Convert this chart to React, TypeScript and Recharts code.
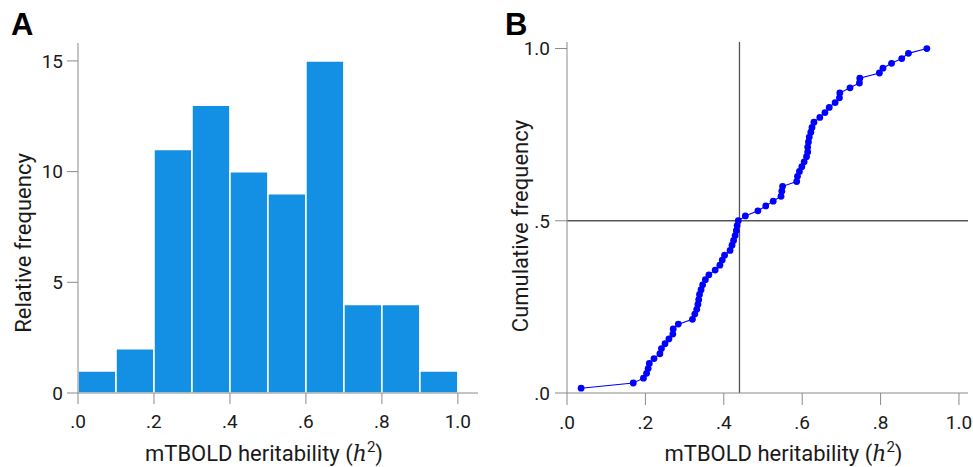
import React from "react";
import {
  ComposedChart,
  LineChart,
  Bar,
  Line,
  XAxis,
  YAxis,
  ReferenceLine,
  Label,
} from "recharts";

// Histogram (panel A)
const binCenters = [0.05, 0.15, 0.25, 0.35, 0.45, 0.55, 0.65, 0.75, 0.85, 0.95];
const binCounts = [1, 2, 11, 13, 10, 9, 15, 4, 4, 1];
const histXTicks = [0, 0.2, 0.4, 0.6, 0.8, 1.0];
const histYTicks = [0, 5, 10, 15];

// Cumulative distribution (panel B)
const heritability = [
  0.036, 0.169, 0.195, 0.203, 0.207, 0.21, 0.222, 0.237, 0.241, 0.25,
  0.26, 0.27, 0.271, 0.284, 0.32, 0.326, 0.331, 0.334, 0.336, 0.338,
  0.342, 0.346, 0.353, 0.362, 0.378, 0.39, 0.396, 0.402, 0.416, 0.421,
  0.425, 0.429, 0.432, 0.434, 0.437, 0.455, 0.487, 0.507, 0.526, 0.546,
  0.548, 0.55, 0.586, 0.588, 0.593, 0.599, 0.605, 0.611, 0.614, 0.614,
  0.616, 0.618, 0.622, 0.625, 0.63, 0.645, 0.658, 0.669, 0.684, 0.695,
  0.696, 0.722, 0.746, 0.747, 0.797, 0.806, 0.828, 0.854, 0.871, 0.918,
];
const cumulativeFreq = [
  0.014, 0.029, 0.043, 0.057, 0.071, 0.086, 0.1, 0.114, 0.129, 0.143,
  0.157, 0.171, 0.186, 0.2, 0.214, 0.229, 0.243, 0.257, 0.271, 0.286,
  0.3, 0.314, 0.329, 0.343, 0.357, 0.371, 0.386, 0.4, 0.414, 0.429,
  0.443, 0.457, 0.471, 0.486, 0.5, 0.514, 0.529, 0.543, 0.557, 0.571,
  0.586, 0.6, 0.614, 0.629, 0.643, 0.657, 0.671, 0.686, 0.7, 0.714,
  0.729, 0.743, 0.757, 0.771, 0.786, 0.8, 0.814, 0.829, 0.843, 0.857,
  0.871, 0.886, 0.9, 0.914, 0.929, 0.943, 0.957, 0.971, 0.986, 1.0,
];
const cdfXTicks = [0, 0.2, 0.4, 0.6, 0.8, 1.0];
const cdfYTicks = [0, 0.5, 1.0];
const medianValue = 0.44;
const medianFreq = 0.5;

const histData = binCenters.map((x, i) => ({ x, n: binCounts[i] }));
const cdfData = heritability.map((x, i) => ({ x, y: cumulativeFreq[i] }));

const FONT = "Roboto, 'DejaVu Sans', sans-serif";
const TEXT = "#1a1a1a";
const AXIS = "#8a8a8a";
const TITLE_SIZE = 22;

const fmtDec = (v: number) => {
  if (v >= 1) return v.toFixed(1);
  return "." + Math.round(v * 10);
};

const tickStyle = { fontSize: 19, fill: TEXT, fontFamily: FONT };

const XTitle = (shift: number) => (props: any) => {
  const vb = props.viewBox || {};
  const cx = vb.x + vb.width / 2 + shift;
  const y = 461;
  return (
    <text x={cx} y={y} textAnchor="middle" fontSize={TITLE_SIZE} fill={TEXT} fontFamily={FONT}>
      <tspan>mTBOLD heritability (</tspan>
      <tspan fontStyle="italic" fontFamily="'DejaVu Serif', serif">h</tspan>
      <tspan fontSize={15} dy={-9}>2</tspan>
      <tspan dy={9}>)</tspan>
    </text>
  );
};

const YTitle = (text: string, cx: number, cy: number) => () => (
  <text
    x={cx}
    y={cy}
    textAnchor="middle"
    dominantBaseline="central"
    transform={`rotate(-90, ${cx}, ${cy})`}
    fontSize={TITLE_SIZE}
    fill={TEXT}
    fontFamily={FONT}
  >
    {text}
  </text>
);

export default function App() {
  return (
    <div
      style={{
        position: "absolute",
        left: 0,
        top: 0,
        width: 973,
        height: 467,
        background: "#fff",
        overflow: "hidden",
      }}
    >
      <div
        style={{
          position: "absolute",
          left: 11,
          top: 7,
          fontFamily: "'Liberation Sans', Arial, sans-serif",
          fontWeight: 700,
          fontSize: 31,
          color: "#000",
          lineHeight: "36px",
        }}
      >
        A
      </div>
      <div
        style={{
          position: "absolute",
          left: 505,
          top: 7,
          fontFamily: "'Liberation Sans', Arial, sans-serif",
          fontWeight: 700,
          fontSize: 31,
          color: "#000",
          lineHeight: "36px",
        }}
      >
        B
      </div>

      <div style={{ position: "absolute", left: 0, top: 0 }}>
        <ComposedChart
          width={490}
          height={467}
          data={histData}
          margin={{ top: 43, right: 12, left: 0, bottom: 0 }}
          barCategoryGap={0}
          barGap={0}
        >
          <XAxis
            dataKey="x"
            type="number"
            domain={[0, 1.053]}
            ticks={histXTicks}
            tickFormatter={fmtDec}
            allowDataOverflow
            height={74}
            tickSize={11}
            tickMargin={11}
            tick={tickStyle}
            stroke={AXIS}
            tickLine={{ stroke: AXIS }}
            axisLine={{ stroke: AXIS }}
          >
            <Label content={XTitle(-14)} />
          </XAxis>
          <YAxis
            type="number"
            domain={[0, 15.81]}
            ticks={histYTicks}
            allowDataOverflow
            width={78}
            tickSize={11}
            tickMargin={4}
            tick={tickStyle}
            stroke={AXIS}
            tickLine={{ stroke: AXIS }}
            axisLine={{ stroke: AXIS }}
          >
            <Label content={YTitle("Relative frequency", 23, 243)} />
          </YAxis>
          <Bar
            dataKey="n"
            fill="#138FE3"
            stroke="#ffffff"
            strokeWidth={1.6}
            isAnimationActive={false}
          />
        </ComposedChart>
      </div>

      <div style={{ position: "absolute", left: 490, top: 0 }}>
        <LineChart
          width={483}
          height={467}
          data={cdfData}
          margin={{ top: 42, right: 5, left: 0, bottom: 0 }}
        >
          <XAxis
            dataKey="x"
            type="number"
            domain={[0, 1.023]}
            ticks={cdfXTicks}
            tickFormatter={fmtDec}
            allowDataOverflow
            height={74}
            tickSize={12}
            tickMargin={11}
            tick={tickStyle}
            stroke={AXIS}
            tickLine={{ stroke: AXIS }}
            axisLine={{ stroke: AXIS }}
          >
            <Label content={XTitle(16)} />
          </XAxis>
          <YAxis
            type="number"
            domain={[0, 1.019]}
            ticks={cdfYTicks}
            tickFormatter={fmtDec}
            allowDataOverflow
            width={77}
            tickSize={12}
            tickMargin={5}
            tick={tickStyle}
            stroke={AXIS}
            tickLine={{ stroke: AXIS }}
            axisLine={{ stroke: AXIS }}
          >
            <Label content={YTitle("Cumulative frequency", 30, 226)} />
          </YAxis>
          <ReferenceLine x={medianValue} stroke="#555" strokeWidth={1.3} />
          <ReferenceLine y={medianFreq} stroke="#555" strokeWidth={1.3} />
          <Line
            dataKey="y"
            stroke="#0000FF"
            strokeWidth={1.1}
            dot={{ r: 3.4, fill: "#0000FF", stroke: "none" }}
            isAnimationActive={false}
          />
        </LineChart>
      </div>
    </div>
  );
}
